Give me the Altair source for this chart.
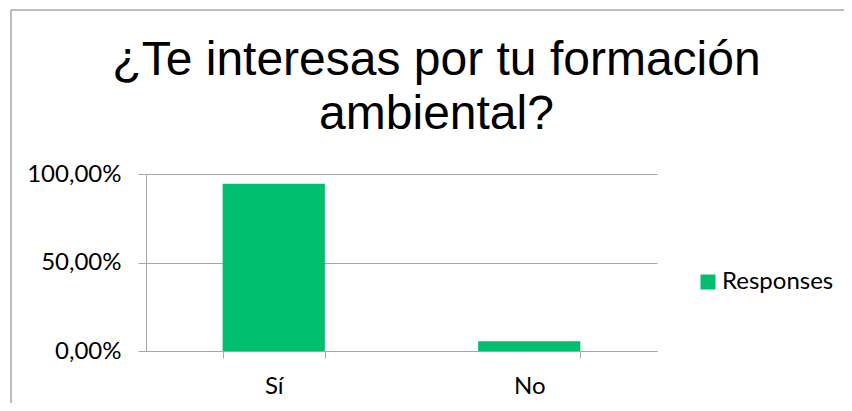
import altair as alt
import pandas as pd

categories = ["Sí", "No"]
values = [0.9444, 0.0556]
series = ["Responses", "Responses"]

df = pd.DataFrame({"cat": categories, "val": values, "series": series})

GREEN = "#00BF6F"
GRAY = "#A6A6A6"
LABEL_FONT = "Lato"

bars = alt.Chart(df).mark_bar(color=GREEN).encode(
    x=alt.X("cat:N", sort=categories, title=None,
            scale=alt.Scale(paddingInner=0.6, paddingOuter=0.3),
            axis=alt.Axis(labelAngle=0, tickBand="extent", tickSize=7,
                          labelBaseline="alphabetic", labelPadding=35,
                          labelFont=LABEL_FONT, labelFontSize=24, labelColor="#000000",
                          domainColor=GRAY, tickColor=GRAY, grid=False)),
    y=alt.Y("val:Q", title=None,
            scale=alt.Scale(domain=[0, 1]),
            axis=alt.Axis(values=[0, 0.5, 1], tickSize=8, labelPadding=17,
                          labelExpr="replace(format(datum.value, '.2%'), '.', ',')",
                          labelFont=LABEL_FONT, labelFontSize=24, labelColor="#000000",
                          domainColor=GRAY, tickColor=GRAY, gridColor=GRAY)),
    color=alt.Color("series:N", title=None,
                    scale=alt.Scale(range=[GREEN]),
                    legend=alt.Legend(orient="none", legendX=550, legendY=96,
                                      symbolType="square", symbolSize=225,
                                      symbolStrokeWidth=0, symbolOpacity=1,
                                      labelFont=LABEL_FONT, labelFontSize=24,
                                      labelColor="#000000", labelOffset=2)),
)

frame_left = alt.Chart(df).mark_rule(color=GRAY, strokeWidth=1).encode(
    x=alt.value(-135), y=alt.value(-164), y2=alt.value(260))
frame_top = alt.Chart(df).mark_rule(color=GRAY, strokeWidth=1).encode(
    x=alt.value(-135), x2=alt.value(720), y=alt.value(-164))

chart = alt.layer(frame_left, frame_top, bars).properties(
    width=511, height=177,
    autosize=alt.AutoSizeParams(type="none"),
    padding={"left": 138, "top": 166, "right": 187, "bottom": 52},
    title=alt.TitleParams(["¿Te interesas por tu formación", "ambiental?"],
                          font="Liberation Sans", fontSize=48, fontWeight="normal",
                          color="#000000", lineHeight=54, anchor="middle",
                          dx=35, dy=133),
).configure_view(stroke=None)

chart.save("out.html", embed_options={"renderer": "svg", "actions": False})
